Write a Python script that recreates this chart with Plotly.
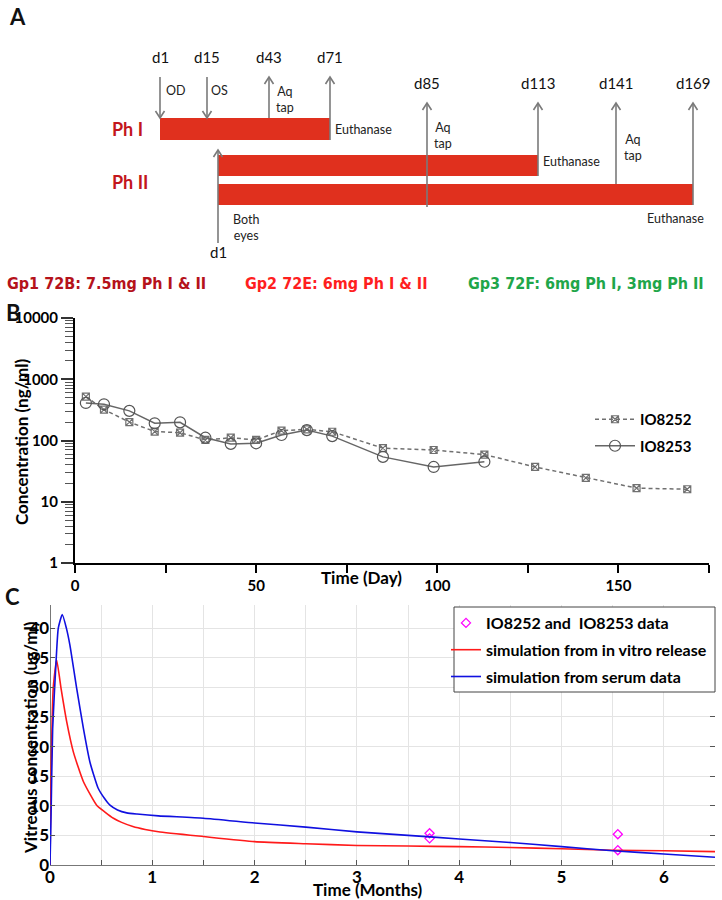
import numpy as np
import plotly.graph_objects as go

W, H = 722, 900

# ---------------- data ----------------
# Panel A: study design (days of events per phase)
PH1_DAYS = [1, 15, 43, 71]
PH1_NOTES = ["OD", "OS", "Aq<br>tap", "Euthanase"]
PH2_DAYS = [1, 85, 113, 141, 169]
PH2_NOTES = ["Both<br>eyes", "Aq<br>tap", "Euthanase", "Aq<br>tap", "Euthanase"]
PHASE_LABELS = ["Ph I", "Ph II"]
GROUP_LABELS = ["Gp1 72B: 7.5mg Ph I & II", "Gp2 72E: 6mg Ph I & II", "Gp3 72F: 6mg Ph I, 3mg Ph II"]
GROUP_COLORS = ["#b5121b", "#ff1f1f", "#1fa64a"]

# Panel B: aqueous concentration (ng/ml) vs day
DAYS_8252 = [3, 8, 15, 22, 29, 36, 43, 50, 57, 64, 71, 85, 99, 113, 127, 141, 155, 169]
CONC_8252 = [520, 320, 200, 140, 134, 102, 111, 102, 145, 152, 139, 75, 70, 59, 37, 24.5, 16.7, 16]
DAYS_8253 = [3, 8, 15, 22, 29, 36, 43, 50, 57, 64, 71, 85, 99, 113]
CONC_8253 = [410, 390, 305, 191, 198, 111, 88, 90, 123, 148, 118, 54, 37, 45]
B_XTICKS = [0, 25, 50, 75, 100, 125, 150, 175]
B_XLABELS = ["0", "", "50", "", "100", "", "150", ""]
B_YTICKS = [1, 10, 100, 1000, 10000]
B_YLABELS = ["1", "10", "100", "1000", "10000"]

# Panel C: vitreous concentration (ug/ml) vs months
T_SERUM = [0, 0.01, 0.026, 0.059, 0.081, 0.12, 0.16, 0.195, 0.26, 0.326, 0.39, 0.47, 0.53,
           0.586, 0.66, 0.75, 0.85, 1.06, 1.5, 2.0, 2.5, 3.0, 3.5, 4.0, 4.5, 5.0, 5.5, 6.0, 6.5]
C_SERUM = [0, 8, 23, 34.3, 40, 42.3, 40, 37.1, 29.9, 23.1, 17.4, 13.0, 11.3,
           10.1, 9.3, 8.8, 8.6, 8.3, 7.9, 7.1, 6.4, 5.6, 5.0, 4.4, 3.8, 3.1, 2.4, 1.86, 1.3]
T_VITRO = [0, 0.01, 0.032, 0.065, 0.11, 0.163, 0.228, 0.326, 0.456, 0.54, 0.62, 0.7, 0.81,
           0.93, 1.06, 1.5, 2.0, 2.5, 3.0, 3.5, 4.0, 4.5, 5.0, 5.5, 6.0, 6.5]
C_VITRO = [0, 15, 30, 34.6, 29.6, 24.2, 19.1, 14.1, 10.1, 8.9, 7.9, 7.2, 6.5,
           6.0, 5.6, 4.8, 3.95, 3.6, 3.3, 3.2, 3.1, 2.95, 2.75, 2.5, 2.4, 2.25]
T_DATA = [3.71, 3.71, 5.55, 5.55]
C_DATA = [5.35, 4.5, 5.2, 2.5]
C_XTICKS = [0, 0.5, 1, 1.5, 2, 2.5, 3, 3.5, 4, 4.5, 5, 5.5, 6, 6.5]
C_XLABELS = ["0", "", "1", "", "2", "", "3", "", "4", "", "5", "", "6", ""]
C_YTICKS = [0, 5, 10, 15, 20, 25, 30, 35, 40]

# ---------------- layout helpers ----------------
FONT = "Lato"
NARROW = "DejaVu Sans Condensed, Liberation Sans Narrow"
ARROW_C = "#7a7a7a"
BAR_C = "#e0301e"
PH_C = "#c3161c"

# schematic (not-to-scale) timeline positions
SCHEM_PH1 = ([1, 15, 43, 71], [160, 207, 269, 330])
SCHEM_PH2 = ([1, 85, 113, 141, 169], [218, 427, 538, 616, 693])


def sx1(d):
    return float(np.interp(d, *SCHEM_PH1))


def sx2(d):
    return float(np.interp(d, *SCHEM_PH2))


def px(x):
    return x / W


def py(y):
    return 1 - y / H


shapes = []
annotations = []


def arrow(x, y_tail, y_head):
    shapes.append(dict(type="line", xref="x", yref="y", x0=x, x1=x, y0=y_tail, y1=y_head,
                       line=dict(color=ARROW_C, width=1.6)))
    s = 1 if y_head < y_tail else -1
    path = f"M {x-4.5},{y_head + s*7} L {x},{y_head} L {x+4.5},{y_head + s*7}"
    shapes.append(dict(type="path", path=path, xref="x", yref="y",
                       line=dict(color=ARROW_C, width=1.6)))


def txt(x, y, s, size=13, color="#222", bold=False, xanchor="left", family=FONT, angle=0):
    annotations.append(dict(x=x, y=y, xref="x", yref="y", text=s, showarrow=False,
                            xanchor=xanchor, yanchor="middle", textangle=angle,
                            font=dict(family=family, size=size, color=color,
                                      weight="bold" if bold else "normal")))


def ptxt(x, y, s, size=17, color="black", xanchor="center", angle=0, family=FONT, bold=True):
    annotations.append(dict(x=px(x), y=py(y), xref="paper", yref="paper", text=s, showarrow=False,
                            xanchor=xanchor, yanchor="middle", textangle=angle,
                            font=dict(family=family, size=size, color=color,
                                      weight="bold" if bold else "normal")))


# ---------------- Panel A ----------------
shapes.append(dict(type="rect", xref="x", yref="y", x0=sx1(PH1_DAYS[0]), x1=sx1(PH1_DAYS[-1]),
                   y0=118, y1=140, fillcolor=BAR_C, line=dict(width=0)))
shapes.append(dict(type="rect", xref="x", yref="y", x0=sx2(PH2_DAYS[0]), x1=sx2(113),
                   y0=155, y1=176, fillcolor=BAR_C, line=dict(width=0)))
shapes.append(dict(type="rect", xref="x", yref="y", x0=sx2(PH2_DAYS[0]), x1=sx2(169),
                   y0=184, y1=205, fillcolor=BAR_C, line=dict(width=0)))

ph1_tail = [77, 77, 118, 140]
ph1_head = [118, 118, 77, 77]
for d, t, h in zip(PH1_DAYS, ph1_tail, ph1_head):
    arrow(sx1(d), t, h)
    txt(sx1(d), 57, f"d{d}", size=15, color="#111", xanchor="center")
ph2_tail = [243, 207, 176, 184, 205]
ph2_head = [150, 103, 103, 103, 103]
for d, t, h in zip(PH2_DAYS, ph2_tail, ph2_head):
    arrow(sx2(d), t, h)
for d in PH2_DAYS[1:]:
    txt(sx2(d), 83, f"d{d}", size=15, color="#111", xanchor="center")
txt(sx2(PH2_DAYS[0]), 252, f"d{PH2_DAYS[0]}", size=15, color="#111", xanchor="center")

note_ph1 = [(sx1(1) + 4, 90), (sx1(15) + 2, 90), (sx1(43) + 5, 99), (sx1(71) + 3, 129)]
for (x, y), s in zip(note_ph1, PH1_NOTES):
    txt(x, y, s, size=12.5)
note_ph2 = [(sx2(1) + 13, 227, "left"), (sx2(85) + 5, 135, "left"), (sx2(113) + 3, 161, "left"),
            (sx2(141) + 6, 147, "left"), (sx2(169) + 13, 218, "right")]
for (x, y, a), s in zip(note_ph2, PH2_NOTES):
    txt(x, y, s, size=12.5, xanchor=a)

txt(110, 129, PHASE_LABELS[0], size=18, color=PH_C, bold=True)
txt(110, 182, PHASE_LABELS[1], size=18, color=PH_C, bold=True)
txt(7, 16, "A", size=22, color="#111", bold=True)

for x, s, c in zip([5, 243, 466], GROUP_LABELS, GROUP_COLORS):
    txt(x, 283, s, size=16, color=c, bold=True, family=NARROW)

# Panel C legend frame (white box)
shapes.append(dict(type="rect", xref="paper", yref="paper", x0=px(454), x1=px(715),
                   y0=py(692), y1=py(607), fillcolor="white", line=dict(color="#444", width=1),
                   layer="above"))

# ---------------- figure ----------------
fig = go.Figure()

fig.add_trace(go.Scatter(x=DAYS_8252, y=CONC_8252, mode="lines+markers", name="IO8252",
                         xaxis="x2", yaxis="y2", legend="legend", legendgroup="a",
                         line=dict(color="#707070", width=1.5, dash="4px,3px"),
                         marker=dict(symbol="square-x-open", size=7, color="#707070",
                                     line=dict(width=1.2))))
fig.add_trace(go.Scatter(x=DAYS_8253, y=CONC_8253, mode="lines+markers", name="IO8253",
                         xaxis="x2", yaxis="y2", legend="legend", legendgroup="b",
                         line=dict(color="#666666", width=1.5),
                         marker=dict(symbol="circle-open", size=11, color="#555555",
                                     line=dict(width=1.2))))

fig.add_trace(go.Scatter(x=T_DATA, y=C_DATA, mode="markers", name="IO8252 and  IO8253 data",
                         xaxis="x3", yaxis="y3", legend="legend2", legendgroup="c",
                         marker=dict(symbol="diamond-open", size=7, color="#ff00ff",
                                     line=dict(width=1.3))))
fig.add_trace(go.Scatter(x=T_VITRO, y=C_VITRO, mode="lines", name="simulation from in vitro release",
                         xaxis="x3", yaxis="y3", legend="legend2", legendgroup="d",
                         line=dict(color="#ff1a1a", width=1.6, shape="spline", smoothing=0.5)))
fig.add_trace(go.Scatter(x=T_SERUM, y=C_SERUM, mode="lines", name="simulation from serum data",
                         xaxis="x3", yaxis="y3", legend="legend2", legendgroup="e",
                         line=dict(color="#1010e0", width=1.6, shape="spline", smoothing=0.5)))

ptxt(13, 313, "B", size=22, color="#111")
ptxt(12, 596, "C", size=22, color="#111")
ptxt(22, 442, "Concentration (ng/ml)", size=17, angle=-90)
ptxt(361, 577, "Time (Day)", size=17)
ptxt(30, 738, "Vitreous concentration (ug/ml)", size=17, angle=-90)
ptxt(368, 889, "Time (Months)", size=17)

minor_vals = [m * 10 ** d for d in range(4) for m in range(2, 10)]

fig.update_layout(
    width=W, height=H, margin=dict(l=0, r=0, t=0, b=0, autoexpand=False),
    paper_bgcolor="white", plot_bgcolor="rgba(0,0,0,0)",
    font=dict(family=FONT, color="black"),
    showlegend=True,
    shapes=shapes, annotations=annotations,
    xaxis=dict(domain=[0, 1], range=[0, W], visible=False, anchor="y", fixedrange=True),
    yaxis=dict(domain=[py(300), 1], range=[300, 0], visible=False, anchor="x", fixedrange=True),
    xaxis2=dict(domain=[px(75), px(709)], range=[0, 175], anchor="y2",
                showline=True, linecolor="black", linewidth=2, showgrid=False, zeroline=False,
                ticks="outside", ticklen=8, tickwidth=2, tickcolor="black",
                tickvals=B_XTICKS, ticktext=B_XLABELS, ticklabelstandoff=0,
                tickfont=dict(family=FONT, size=15, weight="bold")),
    yaxis2=dict(domain=[py(563), py(318)], type="log", range=[0, 4], anchor="x2",
                showline=True, linecolor="black", linewidth=2, showgrid=False, zeroline=False,
                ticks="outside", ticklen=12, tickwidth=1.5, tickcolor="#333",
                tickvals=B_YTICKS, ticktext=B_YLABELS,
                minor=dict(tickvals=minor_vals, ticks="outside", ticklen=8, tickwidth=1,
                           tickcolor="#555", showgrid=False),
                tickfont=dict(family=FONT, size=15, weight="bold")),
    xaxis3=dict(domain=[px(50), px(715)], range=[0, 6.5], anchor="y3",
                showline=False, zeroline=True, zerolinecolor="#777", zerolinewidth=1,
                showgrid=True, gridcolor="#e4e4e4", gridwidth=1,
                ticks="inside", ticklen=5, tickcolor="#555",
                tickvals=C_XTICKS, ticktext=C_XLABELS,
                tickfont=dict(family=FONT, size=17, weight="bold")),
    yaxis3=dict(domain=[py(865), py(605)], range=[0, 43.9], anchor="x3",
                showline=False, zeroline=True, zerolinecolor="#777", zerolinewidth=1,
                showgrid=True, gridcolor="#e4e4e4", gridwidth=1,
                ticks="inside", ticklen=5, tickcolor="#555", mirror="ticks",
                tickvals=C_YTICKS, ticklabelstandoff=0,
                tickfont=dict(family=FONT, size=17, weight="bold")),
    legend=dict(x=px(590), y=py(403), xanchor="left", yanchor="top",
                bgcolor="rgba(0,0,0,0)", tracegroupgap=4, itemwidth=40,
                font=dict(family=FONT, size=15, weight="bold", color="black")),
    legend2=dict(x=px(446), y=py(606), xanchor="left", yanchor="top",
                 bgcolor="rgba(0,0,0,0)", borderwidth=0, tracegroupgap=3,
                 itemwidth=30,
                 font=dict(family=FONT, size=16, weight="bold", color="black")),
)

fig.write_html("out.html", config={"displayModeBar": False},
               post_script="document.body.style.margin='0';document.body.style.overflow='hidden';")
